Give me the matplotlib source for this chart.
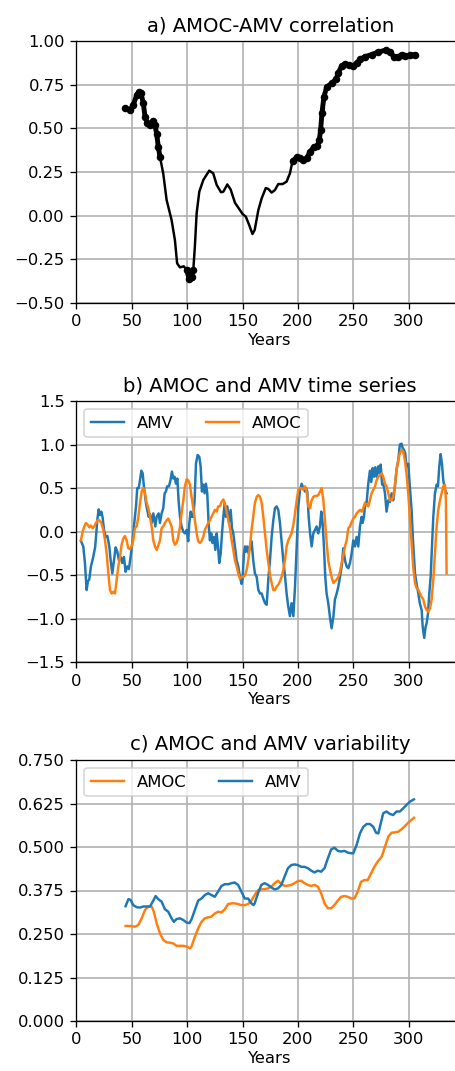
import matplotlib
matplotlib.use("Agg")
import matplotlib.pyplot as plt
import numpy as np

# ---- a) running AMOC-AMV correlation ----
corr_years = [44, 48.4, 51.4, 54.5, 56.6, 58.4, 60.5, 62, 64, 66.5, 69, 71, 72.5, 74, 75.5,
              78.5, 81.5, 86, 89, 91, 93.5, 97, 99.6, 102, 104, 105.6, 107, 108.6, 111,
              114.6, 120, 123.6, 126.7, 130.6, 132.7, 136.3, 139.3, 143.2, 147.7, 150, 153,
              156, 159, 161, 164.3, 167.3, 171, 173.3, 176.3, 179.3, 182.3, 186.2, 189.8,
              192.8, 195.2, 198.9, 201.9, 204.9, 207.9, 210.9, 214.5, 217.5, 219.3, 220.5,
              221.7, 223.5, 225.9, 230.4, 234.4, 236.5, 239.5, 242.5, 246.4, 249.4, 253,
              256, 260.5, 266.5, 272.6, 279.5, 283, 286.7, 290.6, 293.6, 296.6, 301, 305.7]
corr_vals = [0.615, 0.605, 0.634, 0.69, 0.708, 0.70, 0.643, 0.567, 0.532, 0.52, 0.544, 0.52,
             0.47, 0.395, 0.338, 0.24, 0.09, -0.025, -0.14, -0.273, -0.296, -0.29, -0.31,
             -0.365, -0.35, -0.31, -0.178, 0.013, 0.137, 0.204, 0.258, 0.242, 0.176, 0.134,
             0.137, 0.179, 0.15, 0.074, 0.032, 0.01, -0.006, -0.053, -0.105, -0.082, 0.032,
             0.099, 0.158, 0.153, 0.132, 0.147, 0.181, 0.181, 0.195, 0.242, 0.313, 0.334,
             0.332, 0.319, 0.328, 0.366, 0.395, 0.40, 0.433, 0.49, 0.586, 0.681, 0.735,
             0.758, 0.78, 0.819, 0.857, 0.868, 0.864, 0.857, 0.872, 0.895, 0.91, 0.922,
             0.937, 0.948, 0.937, 0.91, 0.91, 0.922, 0.914, 0.918, 0.922]
sig_periods = [(44, 76), (99, 106), (194, 306)]

# ---- b) time series ----
amv_years = [4.2, 6.3, 7.8, 9.3, 10.5, 11.7, 13.2, 15.3, 17.1, 19, 20.2, 21.4, 22.6, 23.8, 25,
             26.5, 28, 29.8, 31, 32.5, 34, 35.5, 37, 38.5, 40, 41.5, 43, 44.5, 46, 47.5, 49,
             50.8, 52, 53.9, 55, 56.3, 57.5, 58.7, 59.9, 61, 62.9, 64, 65.3, 66.5, 68, 69.5,
             71.3, 72.5, 74.3, 75.5, 77, 78.5, 79.7, 80.9, 82, 83.6, 85, 86.3, 87.5, 88.7, 90,
             91.2, 92.4, 93.6, 95, 96.6, 98, 99.6, 101, 102, 103.2, 104.4, 105.6, 106.8, 108,
             109.5, 111, 112.2, 113.4, 114.6, 115.8, 117, 118.2, 119.4, 120.6, 121.8, 123,
             124.2, 125.5, 126.7, 127.9, 129, 130.3, 131.5, 132.7, 133.9, 135, 136.3, 137.8,
             139.3, 140.5, 141.7, 143.2, 144.7, 146.2, 147.7, 149.2, 150, 151.3, 152.3, 153.1,
             154.3, 155.5, 156.7, 158.2, 159.7, 161.2, 162.8, 164.3, 165.8, 167.3, 168.8,
             170.3, 171.8, 173.3, 174.8, 176.3, 177.8, 179.3, 180.8, 182.3, 183.8, 185.4,
             186.8, 188.3, 189.8, 191.3, 192.8, 194.3, 195.9, 197.4, 198.9, 200.4, 201.9,
             203.4, 204.9, 206.4, 207.3, 208.5, 209.7, 211, 212.4, 213.9, 215.4, 216.9,
             218.4, 219.9, 221.1, 222.3, 223.5, 224.7, 225.9, 227.4, 228.9, 230.4, 232,
             233.4, 235, 236.5, 238, 239.5, 241, 242.5, 244, 245.5, 247, 248.5, 250, 251.5,
             253, 254.5, 256, 257.5, 258.4, 259.6, 260.8, 262, 263.5, 265, 266.2, 267.5,
             268.7, 269.9, 271, 272.6, 273.5, 274.7, 276, 277, 278.6, 280, 281.6, 283, 284.6,
             286, 287.6, 289, 290.6, 292, 293.6, 294.5, 295.7, 296.9, 298, 299.6, 301, 302.6,
             304, 305.7, 307, 308.7, 310, 311.7, 312.6, 314, 315.3, 316.2, 317.4, 318.6,
             319.8, 321, 322.2, 323.7, 325.2, 326.4, 327.6, 328.8, 330, 331.2, 332.7, 334.2]
amv_ts = [-0.107, -0.17, -0.36, -0.67, -0.57, -0.55, -0.40, -0.29, -0.17, 0.14, 0.256, 0.19,
          0.23, 0.16, 0.02, -0.06, -0.05, -0.17, -0.33, -0.48, -0.33, -0.18, -0.23, -0.33,
          -0.29, -0.36, -0.29, -0.46, -0.40, -0.43, -0.29, -0.10, 0.06, 0.29, 0.50, 0.50,
          0.59, 0.70, 0.67, 0.52, 0.325, 0.25, 0.17, 0.20, 0.10, 0.21, 0.06, 0.17, 0.21, 0.10,
          0.21, 0.27, 0.44, 0.46, 0.52, 0.52, 0.59, 0.69, 0.61, 0.63, 0.55, 0.61, 0.34, 0.17,
          0.06, 0.00, -0.02, 0.02, -0.11, 0.10, 0.23, 0.17, 0.17, 0.36, 0.78, 0.88, 0.86,
          0.75, 0.46, 0.54, 0.44, 0.55, 0.44, 0.10, -0.10, -0.02, -0.13, -0.06, -0.21, -0.02,
          -0.17, -0.36, -0.25, -0.02, 0.17, 0.33, 0.17, 0.29, 0.11, 0.25, 0.04, -0.02, -0.17,
          -0.33, -0.40, -0.52, -0.60, -0.55, -0.25, -0.17, -0.23, -0.17, -0.25, -0.17, -0.11,
          -0.33, -0.48, -0.52, -0.67, -0.71, -0.71, -0.77, -0.82, -0.84, -0.55, -0.33, -0.06,
          0.13, 0.27, 0.29, 0.25, 0.10, -0.13, -0.33, -0.50, -0.71, -0.86, -0.97, -0.82,
          -0.97, -0.63, -0.17, 0.29, 0.48, 0.55, 0.50, 0.46, 0.50, 0.46, 0.17, -0.02, -0.17,
          -0.02, 0.02, 0.06, -0.02, 0.06, 0.23, 0.10, -0.17, -0.52, -0.71, -0.82, -0.98,
          -1.11, -0.98, -0.78, -0.71, -0.63, -0.52, -0.40, -0.19, -0.33, -0.40, -0.42, -0.36,
          -0.25, -0.10, -0.17, -0.06, -0.17, 0.06, 0.17, 0.10, 0.17, 0.33, 0.33, 0.55, 0.70,
          0.57, 0.73, 0.63, 0.74, 0.63, 0.75, 0.67, 0.77, 0.54, 0.55, 0.44, 0.23, 0.36, 0.34,
          0.44, 0.36, 0.52, 0.71, 0.82, 1.00, 1.01, 0.96, 0.94, 0.90, 0.75, 0.78, 0.52, 0.25,
          -0.13, -0.48, -0.59, -0.71, -0.82, -0.90, -1.09, -1.22, -1.09, -1.05, -0.94, -0.71,
          -0.52, -0.17, 0.17, 0.44, 0.54, 0.52, 0.75, 0.89, 0.78, 0.59, 0.48, 0.44]

amoc_years = [4.2, 5.7, 7.2, 8.7, 10.2, 11.7, 13.2, 14.7, 16.2, 17.7, 19.2, 20.8, 22.6, 24.4,
              25.9, 27.4, 28.9, 30.4, 31.9, 33.4, 34.9, 36.4, 37.9, 39.4, 40.9, 42.4, 43.9,
              45.4, 46.9, 48.4, 49.9, 51.4, 52.9, 54.5, 56, 57.5, 59, 60.5, 62, 63.5, 65,
              66.5, 68, 69.5, 71, 72.5, 74, 75.5, 77, 78.5, 80, 81.5, 83, 84.5, 86, 87.5, 89,
              90.5, 92, 93.6, 95, 96.6, 98, 99.6, 101, 102.6, 104, 105.6, 107, 108.6, 110,
              111.6, 113, 114.6, 116, 117.6, 119, 120.6, 122, 123.6, 125, 126.7, 128, 129.6,
              131, 132.7, 134, 135.7, 137.2, 138.7, 140.2, 141.7, 143.2, 144.7, 146.2, 147.7,
              149.2, 150.7, 152.2, 153.7, 155.2, 156.7, 158.2, 159.7, 161.2, 162.8, 164.3,
              165.8, 167.3, 168.8, 170.3, 171.8, 173.3, 174.8, 176.3, 177.8, 179.3, 180.8,
              182.3, 183.8, 185.3, 186.8, 188.3, 189.8, 191.3, 192.8, 194.3, 195.9, 197.4,
              198.9, 200.4, 201.9, 203.4, 204.9, 206.4, 207.9, 209.4, 211, 212.4, 214, 215.4,
              217, 218.4, 220, 221.4, 223, 224.4, 226, 227.4, 229, 230.4, 232, 233.4, 235,
              236.5, 238, 239.5, 241, 242.5, 244, 245.5, 247, 248.5, 250, 251.5, 253, 254.5,
              256, 257.5, 259, 260.5, 262, 263.5, 265, 266.5, 268, 269.6, 271, 272.6, 274,
              275.6, 277, 278.6, 280, 281.6, 283, 284.6, 286, 287.6, 289, 290.6, 292, 293.6,
              295, 296.6, 298, 299.6, 301, 302.6, 304, 305.7, 307.2, 308.7, 310.2, 311.7,
              313.2, 314.7, 316.2, 317.7, 319.2, 320.7, 322.2, 323.7, 325.2, 326.7, 328.2,
              329.7, 331.2, 332.7, 333.6, 334.2]
amoc_ts = [-0.10, 0.00, 0.06, 0.10, 0.08, 0.05, 0.07, 0.04, 0.06, 0.10, 0.13, 0.13, 0.10,
           0.02, -0.10, -0.25, -0.48, -0.67, -0.71, -0.69, -0.71, -0.55, -0.40, -0.29, -0.15,
           -0.08, -0.05, -0.10, -0.19, -0.20, -0.17, -0.10, 0.04, 0.06, 0.17, 0.33, 0.46,
           0.50, 0.44, 0.33, 0.27, 0.17, 0.06, -0.10, -0.17, -0.21, -0.16, -0.10, 0.04, 0.06,
           0.10, 0.13, 0.15, 0.11, 0.06, -0.10, -0.15, -0.13, -0.06, 0.06, 0.21, 0.36, 0.52,
           0.60, 0.59, 0.54, 0.40, 0.27, 0.13, -0.02, -0.11, -0.13, -0.11, -0.06, 0.02, 0.06,
           0.10, 0.13, 0.17, 0.21, 0.25, 0.23, 0.29, 0.29, 0.34, 0.37, 0.33, 0.23, 0.13, 0.04,
           -0.10, -0.21, -0.33, -0.40, -0.48, -0.54, -0.52, -0.52, -0.50, -0.44, -0.33,
           -0.17, 0.02, 0.17, 0.33, 0.40, 0.42, 0.40, 0.33, 0.17, -0.02, -0.21, -0.36, -0.50,
           -0.59, -0.67, -0.67, -0.63, -0.61, -0.57, -0.52, -0.44, -0.33, -0.17, -0.10,
           -0.06, -0.02, 0.08, 0.21, 0.36, 0.48, 0.50, 0.50, 0.48, 0.52, 0.46, 0.29, 0.27,
           0.36, 0.40, 0.41, 0.41, 0.42, 0.46, 0.50, 0.36, 0.13, -0.13, -0.33, -0.44, -0.52,
           -0.59, -0.57, -0.55, -0.52, -0.46, -0.36, -0.27, -0.17, -0.10, 0.04, 0.06, 0.11,
           0.15, 0.17, 0.21, 0.23, 0.25, 0.23, 0.27, 0.33, 0.31, 0.29, 0.36, 0.44, 0.48, 0.52,
           0.59, 0.63, 0.65, 0.67, 0.63, 0.55, 0.52, 0.44, 0.36, 0.36, 0.40, 0.54, 0.71, 0.82,
           0.90, 0.94, 0.92, 0.82, 0.67, 0.44, 0.17, -0.13, -0.40, -0.59, -0.65, -0.67, -0.71,
           -0.75, -0.78, -0.86, -0.90, -0.92, -0.88, -0.78, -0.55, -0.25, 0.06, 0.25, 0.36,
           0.44, 0.52, 0.54, 0.36, -0.48]

# ---- c) running standard deviation ----
var_amv_years = [44.5, 47, 49, 51.4, 54.5, 57.5, 60.5, 63.5, 66.5, 69, 71.6, 74, 77, 80, 83,
                 86, 88, 90.5, 93.6, 96.6, 99.6, 102, 104, 107, 110, 113, 116, 119, 122, 125,
                 128, 131, 134, 137, 140, 143, 146, 149, 152, 155, 158, 160, 161, 164, 167,
                 170, 173, 176, 179, 182, 185, 188, 191, 194, 197, 200, 203, 206, 209, 212,
                 215, 218, 221, 224, 227, 230, 233, 236, 239, 242, 245, 248, 250, 253, 256,
                 259, 262, 265, 268, 270.5, 272.6, 274.7, 277, 280, 283, 286, 289, 292, 295,
                 298, 301, 304.7]
var_amv = [0.330, 0.350, 0.348, 0.333, 0.327, 0.326, 0.329, 0.329, 0.329, 0.343, 0.359,
           0.350, 0.343, 0.321, 0.314, 0.295, 0.285, 0.293, 0.295, 0.290, 0.283, 0.281,
           0.292, 0.319, 0.346, 0.352, 0.362, 0.367, 0.362, 0.357, 0.372, 0.388, 0.393,
           0.393, 0.396, 0.398, 0.391, 0.372, 0.352, 0.352, 0.338, 0.333, 0.338, 0.367,
           0.391, 0.396, 0.391, 0.384, 0.378, 0.381, 0.391, 0.415, 0.439, 0.448, 0.450,
           0.448, 0.443, 0.443, 0.439, 0.432, 0.427, 0.432, 0.429, 0.439, 0.467, 0.493,
           0.498, 0.489, 0.487, 0.489, 0.484, 0.482, 0.482, 0.506, 0.539, 0.558, 0.566,
           0.566, 0.558, 0.541, 0.539, 0.567, 0.597, 0.602, 0.595, 0.592, 0.602, 0.602,
           0.611, 0.621, 0.630, 0.637]

var_amoc_years = [44.5, 48.4, 53, 56, 59, 62, 65, 68, 70, 72.5, 75.5, 78.5, 81.5, 84.5, 87.5,
                  90.5, 93.6, 96.6, 99.6, 102.6, 104, 107, 110, 113, 116, 119, 122, 125, 128,
                  131, 134, 137, 140, 143, 146, 149, 152, 155, 158, 161, 164, 167, 170, 173,
                  176, 179, 182, 185, 188, 191, 194, 197, 200, 203, 206, 209, 212, 215, 218,
                  221, 224, 227, 230, 233, 236, 239, 242, 245, 248, 251, 254, 257, 260, 263,
                  266, 269, 272, 275.6, 278.6, 281.6, 284.6, 287.6, 290.6, 293.6, 296.6,
                  299.6, 302.6, 304.7]
var_amoc = [0.273, 0.273, 0.271, 0.276, 0.295, 0.319, 0.329, 0.329, 0.314, 0.281, 0.252,
            0.233, 0.226, 0.225, 0.223, 0.216, 0.216, 0.216, 0.214, 0.209, 0.214, 0.242,
            0.266, 0.285, 0.295, 0.298, 0.300, 0.309, 0.314, 0.312, 0.321, 0.336, 0.338,
            0.338, 0.336, 0.333, 0.333, 0.336, 0.346, 0.362, 0.376, 0.378, 0.379, 0.381,
            0.386, 0.396, 0.403, 0.394, 0.388, 0.389, 0.391, 0.396, 0.402, 0.403, 0.396,
            0.391, 0.388, 0.391, 0.386, 0.367, 0.338, 0.324, 0.324, 0.333, 0.346, 0.357,
            0.359, 0.357, 0.352, 0.352, 0.372, 0.400, 0.405, 0.405, 0.424, 0.443, 0.458,
            0.472, 0.501, 0.530, 0.541, 0.542, 0.544, 0.551, 0.560, 0.570, 0.578, 0.584]

BLUE = "#1f77b4"
ORANGE = "#ff7f0e"
DPI = 118
XMAX = 350

fig = plt.figure(figsize=(455 / DPI, 1071 / DPI), dpi=DPI)

L, W = 76.3 / 455, XMAX * 1.108 / 455
ax_a = fig.add_axes([L, (1071 - 303) / 1071, W, 262 / 1071])
ax_b = fig.add_axes([L, (1071 - 662.3) / 1071, W, 261.3 / 1071])
ax_c = fig.add_axes([L, (1071 - 1021) / 1071, W, 261 / 1071])

# a) black line, thick beaded where significant
cy = np.array(corr_years)
cv = np.array(corr_vals)
ax_a.plot(cy, cv, color="black", lw=1.5)
for lo, hi in sig_periods:
    m = (cy >= lo) & (cy <= hi)
    ax_a.plot(cy[m], cv[m], color="black", lw=3.0, solid_capstyle="round",
              solid_joinstyle="round", marker="o", ms=3.6)
ax_a.set_ylim(-0.5, 1.0)
ax_a.set_yticks(np.arange(-0.5, 1.01, 0.25))
ax_a.set_title("a) AMOC-AMV correlation")

# b)
ax_b.plot(amv_years, amv_ts, color=BLUE, label="AMV")
ax_b.plot(amoc_years, amoc_ts, color=ORANGE, label="AMOC")
ax_b.set_ylim(-1.5, 1.5)
ax_b.set_yticks(np.arange(-1.5, 1.51, 0.5))
ax_b.legend(loc="upper left", ncol=2)
ax_b.set_title("b) AMOC and AMV time series")

# c)
ax_c.plot(var_amoc_years, var_amoc, color=ORANGE, label="AMOC")
ax_c.plot(var_amv_years, var_amv, color=BLUE, label="AMV")
ax_c.set_ylim(0, 0.75)
ax_c.set_yticks(np.arange(0, 0.751, 0.125))
ax_c.legend(loc="upper left", ncol=2)
ax_c.set_title("c) AMOC and AMV variability")

for ax in (ax_a, ax_b, ax_c):
    ax.set_xlim(0, XMAX)
    ax.set_xticks(np.arange(0, 301, 50))
    ax.set_xlabel("Years", labelpad=2)
    ax.grid(True, lw=1.0)

fig.savefig("out.png", dpi=DPI)
